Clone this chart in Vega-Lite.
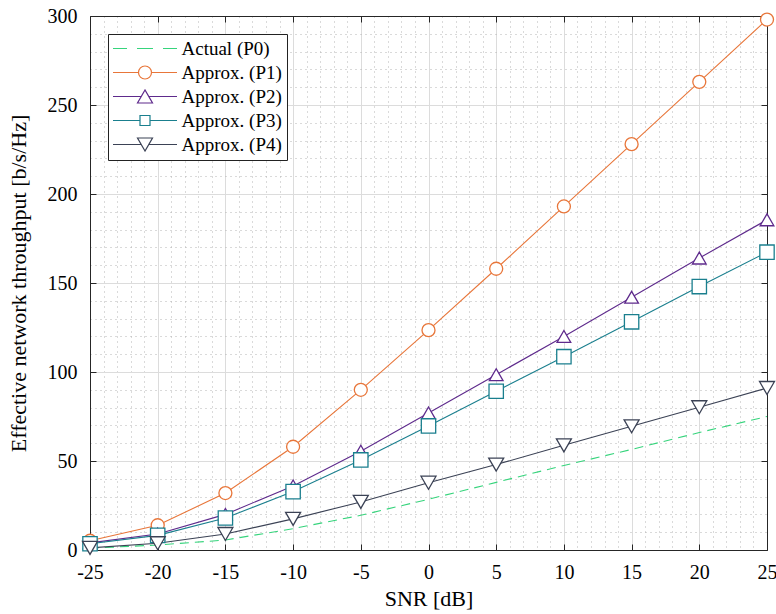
{
  "$schema": "https://vega.github.io/schema/vega-lite/v6.json",
  "autosize": {"type": "none"},
  "padding": {"left": 90, "top": 16, "right": 9, "bottom": 64},
  "width": 677,
  "height": 534,
  "background": "white",
  "config": {"view": {"stroke": null}, "font": "Liberation Serif"},
  "data": {"values": [
    {"series": "Actual (P0)", "snr": -25, "thr": 1},
    {"series": "Actual (P0)", "snr": -20, "thr": 2.8},
    {"series": "Actual (P0)", "snr": -15, "thr": 5.6},
    {"series": "Actual (P0)", "snr": -10, "thr": 12},
    {"series": "Actual (P0)", "snr": -5, "thr": 19.5},
    {"series": "Actual (P0)", "snr": 0, "thr": 28.5},
    {"series": "Actual (P0)", "snr": 5, "thr": 38},
    {"series": "Actual (P0)", "snr": 10, "thr": 47.5},
    {"series": "Actual (P0)", "snr": 15, "thr": 56.5},
    {"series": "Actual (P0)", "snr": 20, "thr": 66},
    {"series": "Actual (P0)", "snr": 25, "thr": 75},
    {"series": "Approx. (P1)", "snr": -25, "thr": 5.2},
    {"series": "Approx. (P1)", "snr": -20, "thr": 13.9},
    {"series": "Approx. (P1)", "snr": -15, "thr": 32},
    {"series": "Approx. (P1)", "snr": -10, "thr": 58},
    {"series": "Approx. (P1)", "snr": -5, "thr": 90},
    {"series": "Approx. (P1)", "snr": 0, "thr": 123.5},
    {"series": "Approx. (P1)", "snr": 5, "thr": 158},
    {"series": "Approx. (P1)", "snr": 10, "thr": 193},
    {"series": "Approx. (P1)", "snr": 15, "thr": 228},
    {"series": "Approx. (P1)", "snr": 20, "thr": 263},
    {"series": "Approx. (P1)", "snr": 25, "thr": 298},
    {"series": "Approx. (P2)", "snr": -25, "thr": 4},
    {"series": "Approx. (P2)", "snr": -20, "thr": 9},
    {"series": "Approx. (P2)", "snr": -15, "thr": 20},
    {"series": "Approx. (P2)", "snr": -10, "thr": 36},
    {"series": "Approx. (P2)", "snr": -5, "thr": 55.5},
    {"series": "Approx. (P2)", "snr": 0, "thr": 77},
    {"series": "Approx. (P2)", "snr": 5, "thr": 98.5},
    {"series": "Approx. (P2)", "snr": 10, "thr": 120},
    {"series": "Approx. (P2)", "snr": 15, "thr": 142},
    {"series": "Approx. (P2)", "snr": 20, "thr": 164},
    {"series": "Approx. (P2)", "snr": 25, "thr": 185.5},
    {"series": "Approx. (P3)", "snr": -25, "thr": 3.5},
    {"series": "Approx. (P3)", "snr": -20, "thr": 8.2},
    {"series": "Approx. (P3)", "snr": -15, "thr": 18},
    {"series": "Approx. (P3)", "snr": -10, "thr": 32.8},
    {"series": "Approx. (P3)", "snr": -5, "thr": 50.6},
    {"series": "Approx. (P3)", "snr": 0, "thr": 69.7},
    {"series": "Approx. (P3)", "snr": 5, "thr": 89.2},
    {"series": "Approx. (P3)", "snr": 10, "thr": 108.6},
    {"series": "Approx. (P3)", "snr": 15, "thr": 128.2},
    {"series": "Approx. (P3)", "snr": 20, "thr": 148},
    {"series": "Approx. (P3)", "snr": 25, "thr": 167.3},
    {"series": "Approx. (P4)", "snr": -25, "thr": 1.2},
    {"series": "Approx. (P4)", "snr": -20, "thr": 3.8},
    {"series": "Approx. (P4)", "snr": -15, "thr": 9},
    {"series": "Approx. (P4)", "snr": -10, "thr": 17.5},
    {"series": "Approx. (P4)", "snr": -5, "thr": 27},
    {"series": "Approx. (P4)", "snr": 0, "thr": 37.8},
    {"series": "Approx. (P4)", "snr": 5, "thr": 48},
    {"series": "Approx. (P4)", "snr": 10, "thr": 58.8},
    {"series": "Approx. (P4)", "snr": 15, "thr": 69.5},
    {"series": "Approx. (P4)", "snr": 20, "thr": 80.2},
    {"series": "Approx. (P4)", "snr": 25, "thr": 91}
  ]},
  "resolve": {"axis": {"x": "independent", "y": "independent"}},
  "layer": [
    {
      "transform": [{"filter": "datum.series === 'Actual (P0)'"}],
      "mark": {"type": "line", "strokeDash": [9, 6], "strokeWidth": 1.1},
      "encoding": {
        "x": {"field": "snr", "type": "quantitative", "scale": {"domain": [-25, 25], "nice": false, "zero": false},
          "axis": {"orient": "bottom", "values": [-24,-23,-22,-21,-19,-18,-17,-16,-14,-13,-12,-11,-9,-8,-7,-6,-4,-3,-2,-1,1,2,3,4,6,7,8,9,11,12,13,14,16,17,18,19,21,22,23,24],
            "grid": true, "gridDash": [1, 4], "gridColor": "#b4b4b4", "gridWidth": 1, "labels": false, "ticks": false, "domain": false, "title": null}},
        "y": {"field": "thr", "type": "quantitative", "scale": {"domain": [0, 300], "nice": false},
          "axis": {"orient": "left", "values": [10,20,30,40,60,70,80,90,110,120,130,140,160,170,180,190,210,220,230,240,260,270,280,290],
            "grid": true, "gridDash": [1, 4], "gridColor": "#b4b4b4", "gridWidth": 1, "labels": false, "ticks": false, "domain": false, "title": null}},
        "color": {"field": "series", "type": "nominal",
          "scale": {"domain": ["Actual (P0)", "Approx. (P1)", "Approx. (P2)", "Approx. (P3)", "Approx. (P4)"],
                    "range": ["#36d47c", "#e8763a", "#5e2a8c", "#1a7f8e", "#3b4255"]},
          "legend": {
            "title": null, "orient": "top-left", "offset": 18, "fillColor": "white", "strokeColor": "#222", "padding": 5,
            "symbolSize": 4, "symbolStrokeWidth": 1.2, "symbolOffset": 22.5,
            "labelFont": "Liberation Serif", "labelFontSize": 19, "labelColor": "black",
            "labelOffset": 27, "rowPadding": 4,
            "labelExpr": "datum.label + '\u00a0\u00a0\u00a0\u00a0\u00a0\u00a0'",
            "encode": {"symbols": {"update": {
              "shape": {"signal": "datum.value === 'Actual (P0)' ? 'M-32,0H-18M-8,0H8M18,0H32' : datum.value === 'Approx. (P1)' ? 'M-32,0H-6.5M6.5,0H32M-6.5,0A6.5,6.5 0 1,0 6.5,0A6.5,6.5 0 1,0 -6.5,0' : datum.value === 'Approx. (P2)' ? 'M-32,0H-3.75M3.75,0H32M0,-6.5L-7.5,6.5H7.5Z' : datum.value === 'Approx. (P3)' ? 'M-32,0H-5M5,0H32M-5,-5H5V5H-5Z' : 'M-32,0H-3.75M3.75,0H32M0,6.5L-7.5,-6.5H7.5Z'"},
              "fill": {"value": "white"}, "fillOpacity": {"value": 1}, "opacity": {"value": 1},
              "stroke": {"scale": "color", "field": "value"}, "strokeWidth": {"value": 1.2}
            }}}
          }}
      }
    },
    {
      "transform": [{"filter": "datum.series !== 'Actual (P0)'"}],
      "mark": {"type": "line", "strokeWidth": 1.1},
      "encoding": {
        "x": {"field": "snr", "type": "quantitative", "scale": {"domain": [-25, 25], "nice": false, "zero": false},
          "axis": {"orient": "bottom", "values": [-25,-20,-15,-10,-5,0,5,10,15,20,25], "grid": true, "gridColor": "#dcdcdc", "gridWidth": 1,
            "labelExpr": "'' + datum.value",
            "tickSize": -6, "tickColor": "#262626", "domainColor": "#262626", "domainWidth": 1,
            "labelFont": "Liberation Serif", "labelFontSize": 20, "labelColor": "black", "labelPadding": 18, "labelFlush": false,
            "title": "SNR [dB]", "titleFont": "Liberation Serif", "titleFontSize": 22, "titleFontWeight": "normal", "titleColor": "black", "titlePadding": 6}},
        "y": {"field": "thr", "type": "quantitative", "scale": {"domain": [0, 300], "nice": false},
          "axis": {"orient": "left", "values": [0,50,100,150,200,250,300], "grid": true, "gridColor": "#dcdcdc", "gridWidth": 1,
            "tickSize": -6, "tickColor": "#262626", "domainColor": "#262626", "domainWidth": 1,
            "labelFont": "Liberation Serif", "labelFontSize": 20, "labelColor": "black", "labelPadding": 19, "labelFlush": false,
            "title": "Effective network throughput [b/s/Hz]", "titleFont": "Liberation Serif", "titleFontSize": 22, "titleFontWeight": "normal", "titleColor": "black", "titlePadding": 17}},
        "color": {"field": "series", "type": "nominal",
          "scale": {"domain": ["Actual (P0)", "Approx. (P1)", "Approx. (P2)", "Approx. (P3)", "Approx. (P4)"],
                    "range": ["#36d47c", "#e8763a", "#5e2a8c", "#1a7f8e", "#3b4255"]}}
      }
    },
    {
      "transform": [{"filter": "datum.series !== 'Actual (P0)'"}],
      "mark": {"type": "point", "filled": false, "fill": "white", "fillOpacity": 1, "opacity": 1, "strokeWidth": 1.3},
      "encoding": {
        "x": {"field": "snr", "type": "quantitative", "scale": {"domain": [-25, 25], "nice": false, "zero": false},
          "axis": {"orient": "top", "values": [-25,-20,-15,-10,-5,0,5,10,15,20,25], "grid": false, "labels": false,
            "tickSize": -6, "tickColor": "#262626", "domainColor": "#262626", "domainWidth": 1, "title": null}},
        "y": {"field": "thr", "type": "quantitative", "scale": {"domain": [0, 300], "nice": false},
          "axis": {"orient": "right", "values": [0,50,100,150,200,250,300], "grid": false, "labels": false,
            "tickSize": -6, "tickColor": "#262626", "domainColor": "#262626", "domainWidth": 1, "title": null}},
        "color": {"field": "series", "type": "nominal",
          "scale": {"domain": ["Actual (P0)", "Approx. (P1)", "Approx. (P2)", "Approx. (P3)", "Approx. (P4)"],
                    "range": ["#36d47c", "#e8763a", "#5e2a8c", "#1a7f8e", "#3b4255"]}},
        "shape": {"field": "series", "type": "nominal", "legend": null,
          "scale": {"domain": ["Approx. (P1)", "Approx. (P2)", "Approx. (P3)", "Approx. (P4)"],
                    "range": ["circle", "triangle-up", "square", "triangle-down"]}},
        "size": {"field": "series", "type": "nominal", "legend": null,
          "scale": {"domain": ["Approx. (P1)", "Approx. (P2)", "Approx. (P3)", "Approx. (P4)"],
                    "range": [169, 225, 100, 225]}}
      }
    }
  ]
}
